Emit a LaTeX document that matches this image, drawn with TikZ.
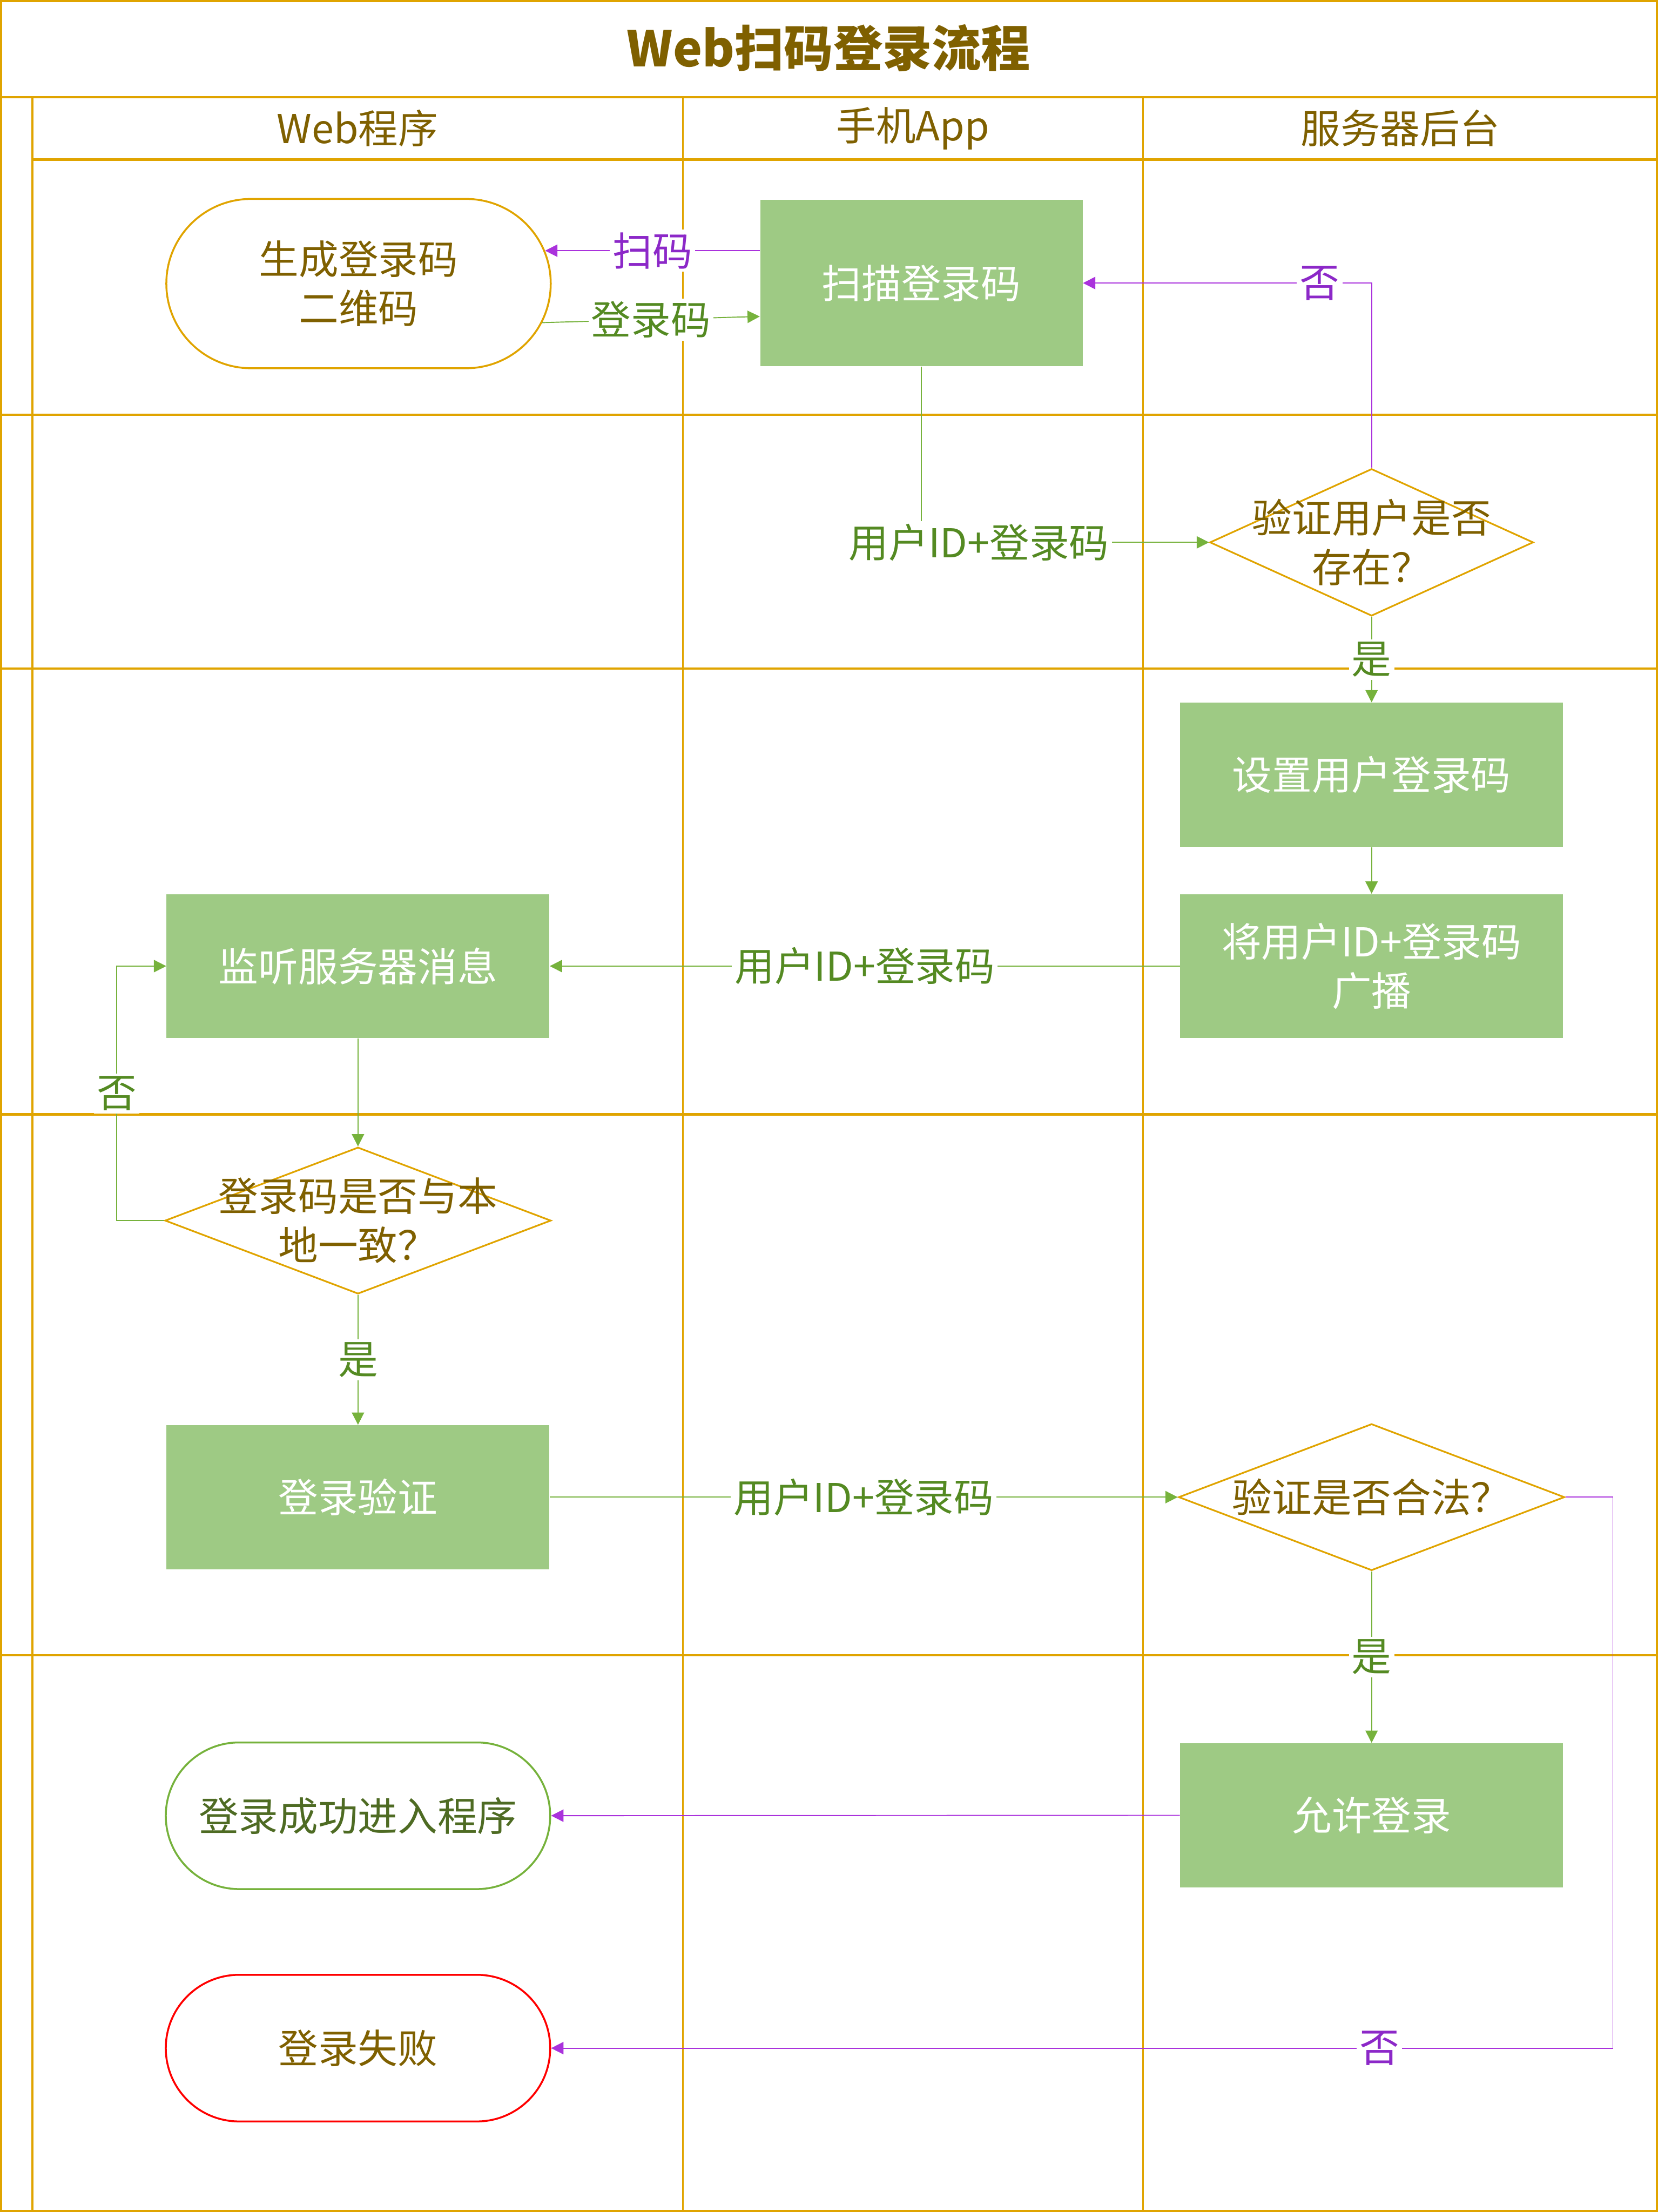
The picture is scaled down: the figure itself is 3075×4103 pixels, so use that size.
\documentclass[tikz,border=0pt]{standalone}
\usepackage{fontspec}
\setmainfont{Noto Sans CJK SC}
\usetikzlibrary{arrows.meta, shapes.geometric, shapes.misc}

\definecolor{lanegold}{RGB}{224,164,0}
\definecolor{inkbrown}{RGB}{127,96,0}
\definecolor{boxgreen}{RGB}{158,202,132}
\definecolor{linegreen}{RGB}{118,178,60}
\definecolor{txtgreen}{RGB}{84,138,34}
\definecolor{okgreen}{RGB}{78,107,35}
\definecolor{linepurple}{RGB}{170,50,220}
\definecolor{txtpurple}{RGB}{140,40,200}

\begin{document}
\begin{tikzpicture}[
  x=0.1mm, y=-0.1mm,
  every node/.style = {font=\fontsize{21pt}{26pt}\selectfont},
  frame/.style = {draw=lanegold, line width=1.15pt},
  lane/.style = {draw=lanegold, line width=0.9pt},
  header/.style = {text=inkbrown},
  process/.style = {
    rectangle, fill=boxgreen, text=white, align=center, inner sep=0pt,
    minimum width=71mm, minimum height=26.7mm
  },
  terminal/.style = {
    rounded rectangle, draw, line width=1pt, fill=white, align=center,
    inner sep=0pt, minimum width=71.3mm, minimum height=27.2mm
  },
  decision/.style = {
    diamond, draw=lanegold, line width=0.9pt, fill=white, inner sep=0pt,
    minimum width=71.6mm, minimum height=27.2mm
  },
  dtext/.style = {text=inkbrown, align=center},
  gflow/.style = {draw=linegreen, line width=0.55pt, -{Triangle[length=6.5pt, width=6.5pt]}},
  pflow/.style = {draw=linepurple, line width=0.55pt, -{Triangle[length=6.5pt, width=6.5pt]}},
  glabel/.style = {fill=white, text=txtgreen, inner sep=1.5pt},
  plabel/.style = {fill=white, text=txtpurple, inner sep=1.5pt}
]
\useasboundingbox (0,0) rectangle (3075,4103);

% swimlane frame
\draw[frame] (2,2) rectangle (3073,4101);
\draw[frame] (0,180) -- (3075,180);
\draw[frame] (60,296) -- (3075,296);
\foreach \y in {769,1240,2067,3070}
  \draw[frame] (0,\y) -- (3075,\y);
\draw[frame] (60,180) -- (60,4103);
\draw[lane] (1267,180) -- (1267,4103);
\draw[lane] (2120,180) -- (2120,4103);

\node[text=inkbrown, font=\fontsize{26pt}{30pt}\selectfont\bfseries] (title) at (1537,89) {Web扫码登录流程};
\node[header] (hweb) at (663,238) {Web程序};
\node[header] (happ) at (1693,238) {手机App};
\node[header] (hsrv) at (2597,238) {服务器后台};

\node[terminal, draw=lanegold, text=inkbrown, minimum height=31.4mm] (gen) at (665,526) {生成登录码\\二维码};
\node[process, minimum width=59.8mm, minimum height=30.8mm] (scan) at (1709,525) {扫描登录码};
\node[decision, minimum width=60mm, minimum height=27.3mm,
  label={[dtext]center:验证用户是否\\存在？}] (chkuser) at (2544,1006) {};
\node[process] (setcode) at (2544,1437) {设置用户登录码};
\node[process] (bcast) at (2544,1792) {将用户ID+登录码\\广播};
\node[process] (listen) at (664,1792) {监听服务器消息};
\node[decision, label={[dtext]center:登录码是否与本\\地一致？}] (match) at (664,2264) {};
\node[process] (verify) at (664,2777) {登录验证};
\node[decision, label={[dtext]center:验证是否合法？}] (legal) at (2544,2777) {};
\node[process] (allow) at (2544,3367) {允许登录};
\node[terminal, draw=linegreen, text=okgreen] (ok) at (664,3368) {登录成功进入程序};
\node[terminal, draw=red, text=inkbrown] (fail) at (664,3799) {登录失败};

\draw[pflow] (scan.west |- gen.10) -- node[plabel] {扫码} (gen.10);
\draw[gflow] (gen.-12) -- node[glabel] {登录码} ([yshift=-6.2mm]scan.west);
\draw[gflow] (scan.south) |- node[glabel, pos=0.6] {用户ID+登录码} (chkuser.west);
\draw[pflow] (chkuser.north) |- node[plabel, pos=0.59] {否} (scan.east);
\draw[gflow] (chkuser.south) -- node[glabel] {是} (setcode.north);
\draw[gflow] (setcode) -- (bcast);
\draw[gflow] (bcast) -- node[glabel] {用户ID+登录码} (listen);
\draw[gflow] (listen) -- (match);
\draw[gflow] (match.west) -- ++(-88,0) |- node[glabel, pos=0.25] {否} (listen.west);
\draw[gflow] (match) -- node[glabel] {是} (verify);
\draw[gflow] (verify) -- node[glabel] {用户ID+登录码} (legal);
\draw[gflow] (legal) -- node[glabel] {是} (allow);
\draw[pflow] (allow) -- (ok);
\draw[pflow] (legal.east) -- ++(88,0) |- node[plabel, pos=0.61] {否} (fail.east);

\end{tikzpicture}
\end{document}
